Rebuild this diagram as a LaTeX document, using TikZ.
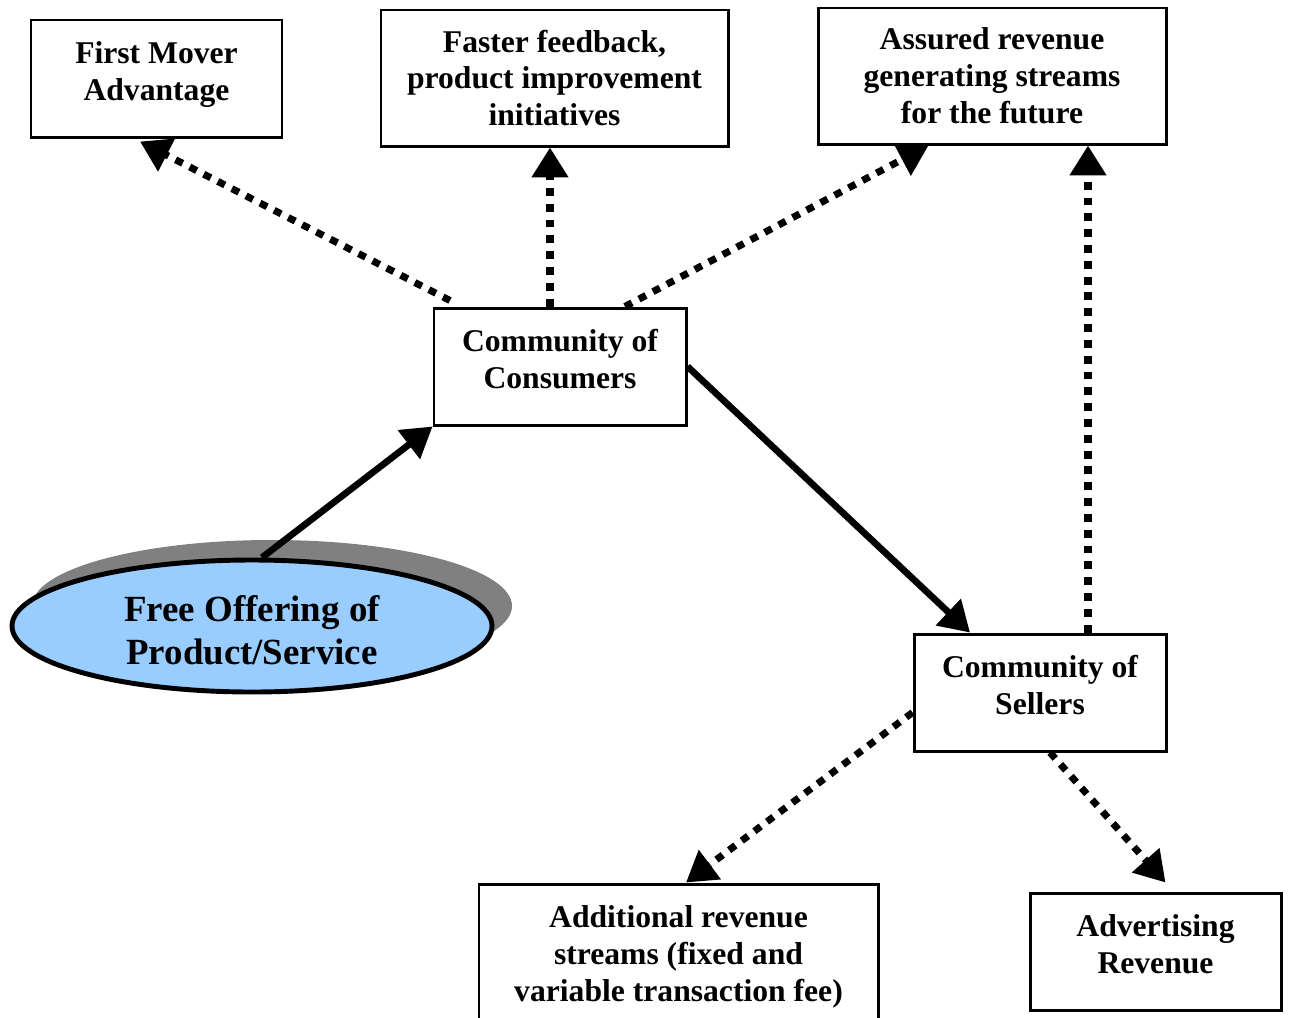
\documentclass[tikz,border=0pt]{standalone}
\usepackage{fontspec}
\setmainfont{Liberation Serif}
\usetikzlibrary{positioning, arrows.meta, shapes.geometric}
\definecolor{offerblue}{HTML}{99CCFF}
\definecolor{shadowgray}{HTML}{808080}
\newcommand{\shifttext}[2]{\raisebox{#1}[0pt][0pt]{\begin{tabular}{@{}c@{}}#2\end{tabular}}}

\begin{document}
\begin{tikzpicture}[
		>={Triangle[length=17pt, width=20pt]},
		tbox/.style={draw, rectangle, line width=1.7pt, align=center, inner sep=0pt,
			font=\fontsize{18}{21}\selectfont\bfseries},
		solidarrow/.style={->, line width=3.8pt},
		dotarrow/.style={->, line width=4pt, dash pattern=on 4.5pt off 4.5pt},
	]
	\useasboundingbox (0, 0) rectangle (25.8, -20.34);

	\node[tbox, minimum width=5.02cm, minimum height=2.34cm] (fma) at (3.13, -1.57) {\shifttext{-0.07cm}{First Mover\\Advantage}};
	\node[tbox, minimum width=6.94cm, minimum height=2.72cm] (fast) at (11.09, -1.56) {Faster feedback,\\product improvement\\initiatives};
	\node[tbox, minimum width=6.96cm, minimum height=2.72cm] (assured) at (19.84, -1.52) {Assured revenue\\generating streams\\for the future};

	\node[tbox, minimum width=5.04cm, minimum height=2.34cm] (cons) at (11.2, -7.33) {\shifttext{-0.08cm}{Community of\\Consumers}};
	\node[tbox, minimum width=5.04cm, minimum height=2.34cm] (sell) at (20.8, -13.85) {\shifttext{-0.08cm}{Community of\\Sellers}};

	\node[tbox, minimum width=7.98cm, minimum height=2.76cm] (addl) at (13.57, -19.06) {\shifttext{-0.23cm}{Additional revenue\\streams (fixed and\\variable transaction fee)}};
	\node[tbox, minimum width=5.02cm, minimum height=2.34cm] (adv) at (23.11, -19.03) {\shifttext{-0.08cm}{Advertising\\Revenue}};

	% shadowed ellipse
	\node[ellipse, fill=shadowgray, minimum width=9.6cm, minimum height=2.64cm] (freeshadow) at (5.44, -12.12) {};
	\node[ellipse, draw, fill=offerblue, line width=2.8pt, minimum width=9.6cm, minimum height=2.64cm,
		font=\fontsize{21}{24.5}\selectfont\bfseries] (free) at (5.04, -12.52) {\shifttext{-0.345cm}{Free Offering of\\Product/Service}};

	\draw[solidarrow] ([xshift=0.2cm]free.north) -- (cons.south west);
	\draw[solidarrow] (cons.east) -- ([xshift=-1.4cm]sell.north);

	\draw[dotarrow] ([xshift=-2.2cm, yshift=0.12cm]cons.north) -- ([xshift=-0.33cm, yshift=-0.06cm]fma.south);
	\draw[dotarrow] ([xshift=-0.2cm]cons.north) -- ([xshift=-0.2cm]cons.north |- fast.south);
	\draw[dotarrow] ([xshift=1.3cm]cons.north) -- ([xshift=2.24cm]assured.south west);

	\draw[dotarrow] ([xshift=0.96cm]sell.north) -- ([xshift=0.96cm]sell.north |- assured.south);
	\draw[dotarrow] ([yshift=-0.4cm]sell.west) -- ([xshift=0.15cm]addl.north);
	\draw[dotarrow] ([xshift=0.2cm]sell.south) -- ([xshift=0.2cm, yshift=0.18cm]adv.north);
\end{tikzpicture}
\end{document}
